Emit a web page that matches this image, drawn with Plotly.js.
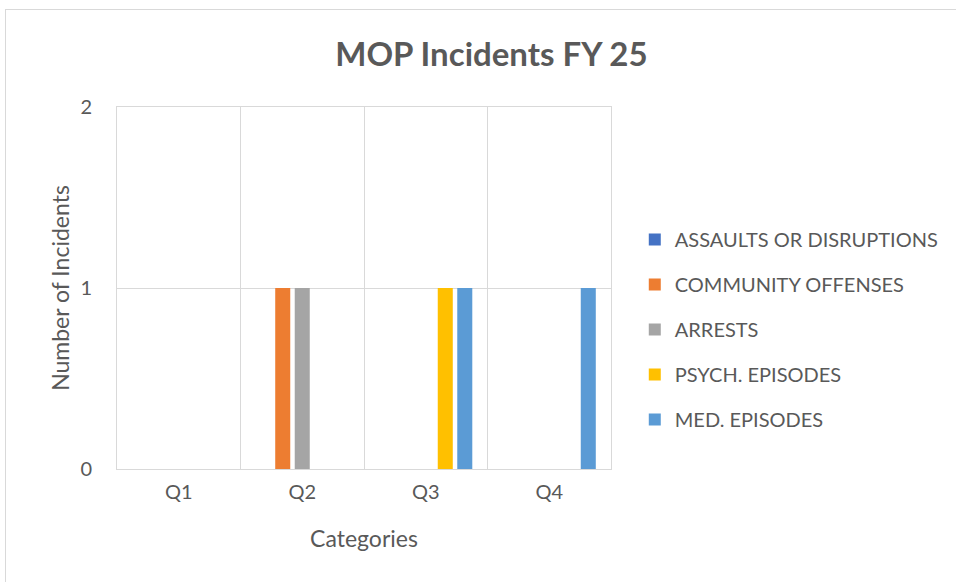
<!DOCTYPE html>
<html>
<head>
<meta charset="utf-8">
<script src="https://cdn.plot.ly/plotly-3.0.1.min.js"></script>
<style>
  html, body { margin: 0; padding: 0; background: #ffffff; }
  #wrap { position: relative; width: 956px; height: 582px; overflow: hidden; }
  #frame { position: absolute; left: 5px; top: 9px; width: 1000px; height: 1000px;
           border-left: 1px solid #d9d9d9; border-top: 1px solid #d9d9d9; pointer-events: none; }
  #chart { position: absolute; left: 0; top: 0; width: 956px; height: 582px; }
</style>
</head>
<body>
<div id="wrap">
  <div id="chart"></div>
  <div id="frame"></div>
</div>
<script>
const categories = ["Q1", "Q2", "Q3", "Q4"];
const seriesNames = ["ASSAULTS OR DISRUPTIONS", "COMMUNITY OFFENSES", "ARRESTS", "PSYCH. EPISODES", "MED. EPISODES"];
const assaults = [0, 0, 0, 0];
const community = [0, 1, 0, 0];
const arrests = [0, 1, 0, 0];
const psych = [0, 0, 1, 0];
const med = [0, 0, 1, 1];
const seriesValues = [assaults, community, arrests, psych, med];
const colors = ["#4472C4", "#ED7D31", "#A5A5A5", "#FFC000", "#5B9BD5"];
const yTicks = [0, 1, 2];

const FONT = "Lato, 'Open Sans', sans-serif";
const TXT = "#595959";

const traces = seriesNames.map((name, i) => ({
  type: "bar",
  name: name,
  x: categories,
  y: seriesValues[i],
  marker: { color: colors[i] },
  legendgroup: "g" + i,
  hoverinfo: "x+y+name"
}));

const layout = {
  width: 956,
  height: 582,
  margin: { l: 117, r: 345, t: 107, b: 113 },
  paper_bgcolor: "rgba(0,0,0,0)",
  plot_bgcolor: "#ffffff",
  font: { family: FONT, color: TXT, size: 20 },
  title: {
    text: "<b>MOP Incidents FY 25</b>",
    font: { family: FONT, size: 33, color: TXT },
    xref: "container", x: 0.514, xanchor: "center",
    yref: "container", y: 1 - 54 / 582, yanchor: "middle"
  },
  barmode: "group",
  bargap: 0.21,
  bargroupgap: 0.23,
  xaxis: {
    type: "category",
    tickson: "boundaries",
    showgrid: true,
    gridcolor: "#d9d9d9",
    gridwidth: 1,
    showline: true,
    mirror: true,
    linecolor: "#d9d9d9",
    linewidth: 1,
    ticks: "",
    ticklabelstandoff: 5,
    tickfont: { family: FONT, size: 20, color: TXT },
    title: { text: "Categories", font: { family: FONT, size: 23, color: TXT }, standoff: 28 },
    fixedrange: true
  },
  yaxis: {
    range: [0, 2],
    tickvals: yTicks,
    ticktext: yTicks.map(String),
    showgrid: true,
    gridcolor: "#d9d9d9",
    gridwidth: 1,
    showline: true,
    mirror: true,
    linecolor: "#d9d9d9",
    linewidth: 1,
    zeroline: false,
    ticks: "",
    ticklabelstandoff: 20,
    tickfont: { family: FONT, size: 20, color: TXT },
    title: { text: "Number of Incidents", font: { family: FONT, size: 23, color: TXT }, standoff: 4 },
    fixedrange: true
  },
  showlegend: true,
  legend: {
    xref: "container", yref: "container",
    x: 0.664, xanchor: "left",
    y: 1 - 220 / 582, yanchor: "top",
    traceorder: "grouped",
    tracegroupgap: 16,
    font: { family: FONT, size: 20, color: TXT },
    itemwidth: 30,
    bgcolor: "rgba(0,0,0,0)"
  }
};

Plotly.newPlot("chart", traces, layout, { displayModeBar: false, staticPlot: true });
</script>
</body>
</html>
